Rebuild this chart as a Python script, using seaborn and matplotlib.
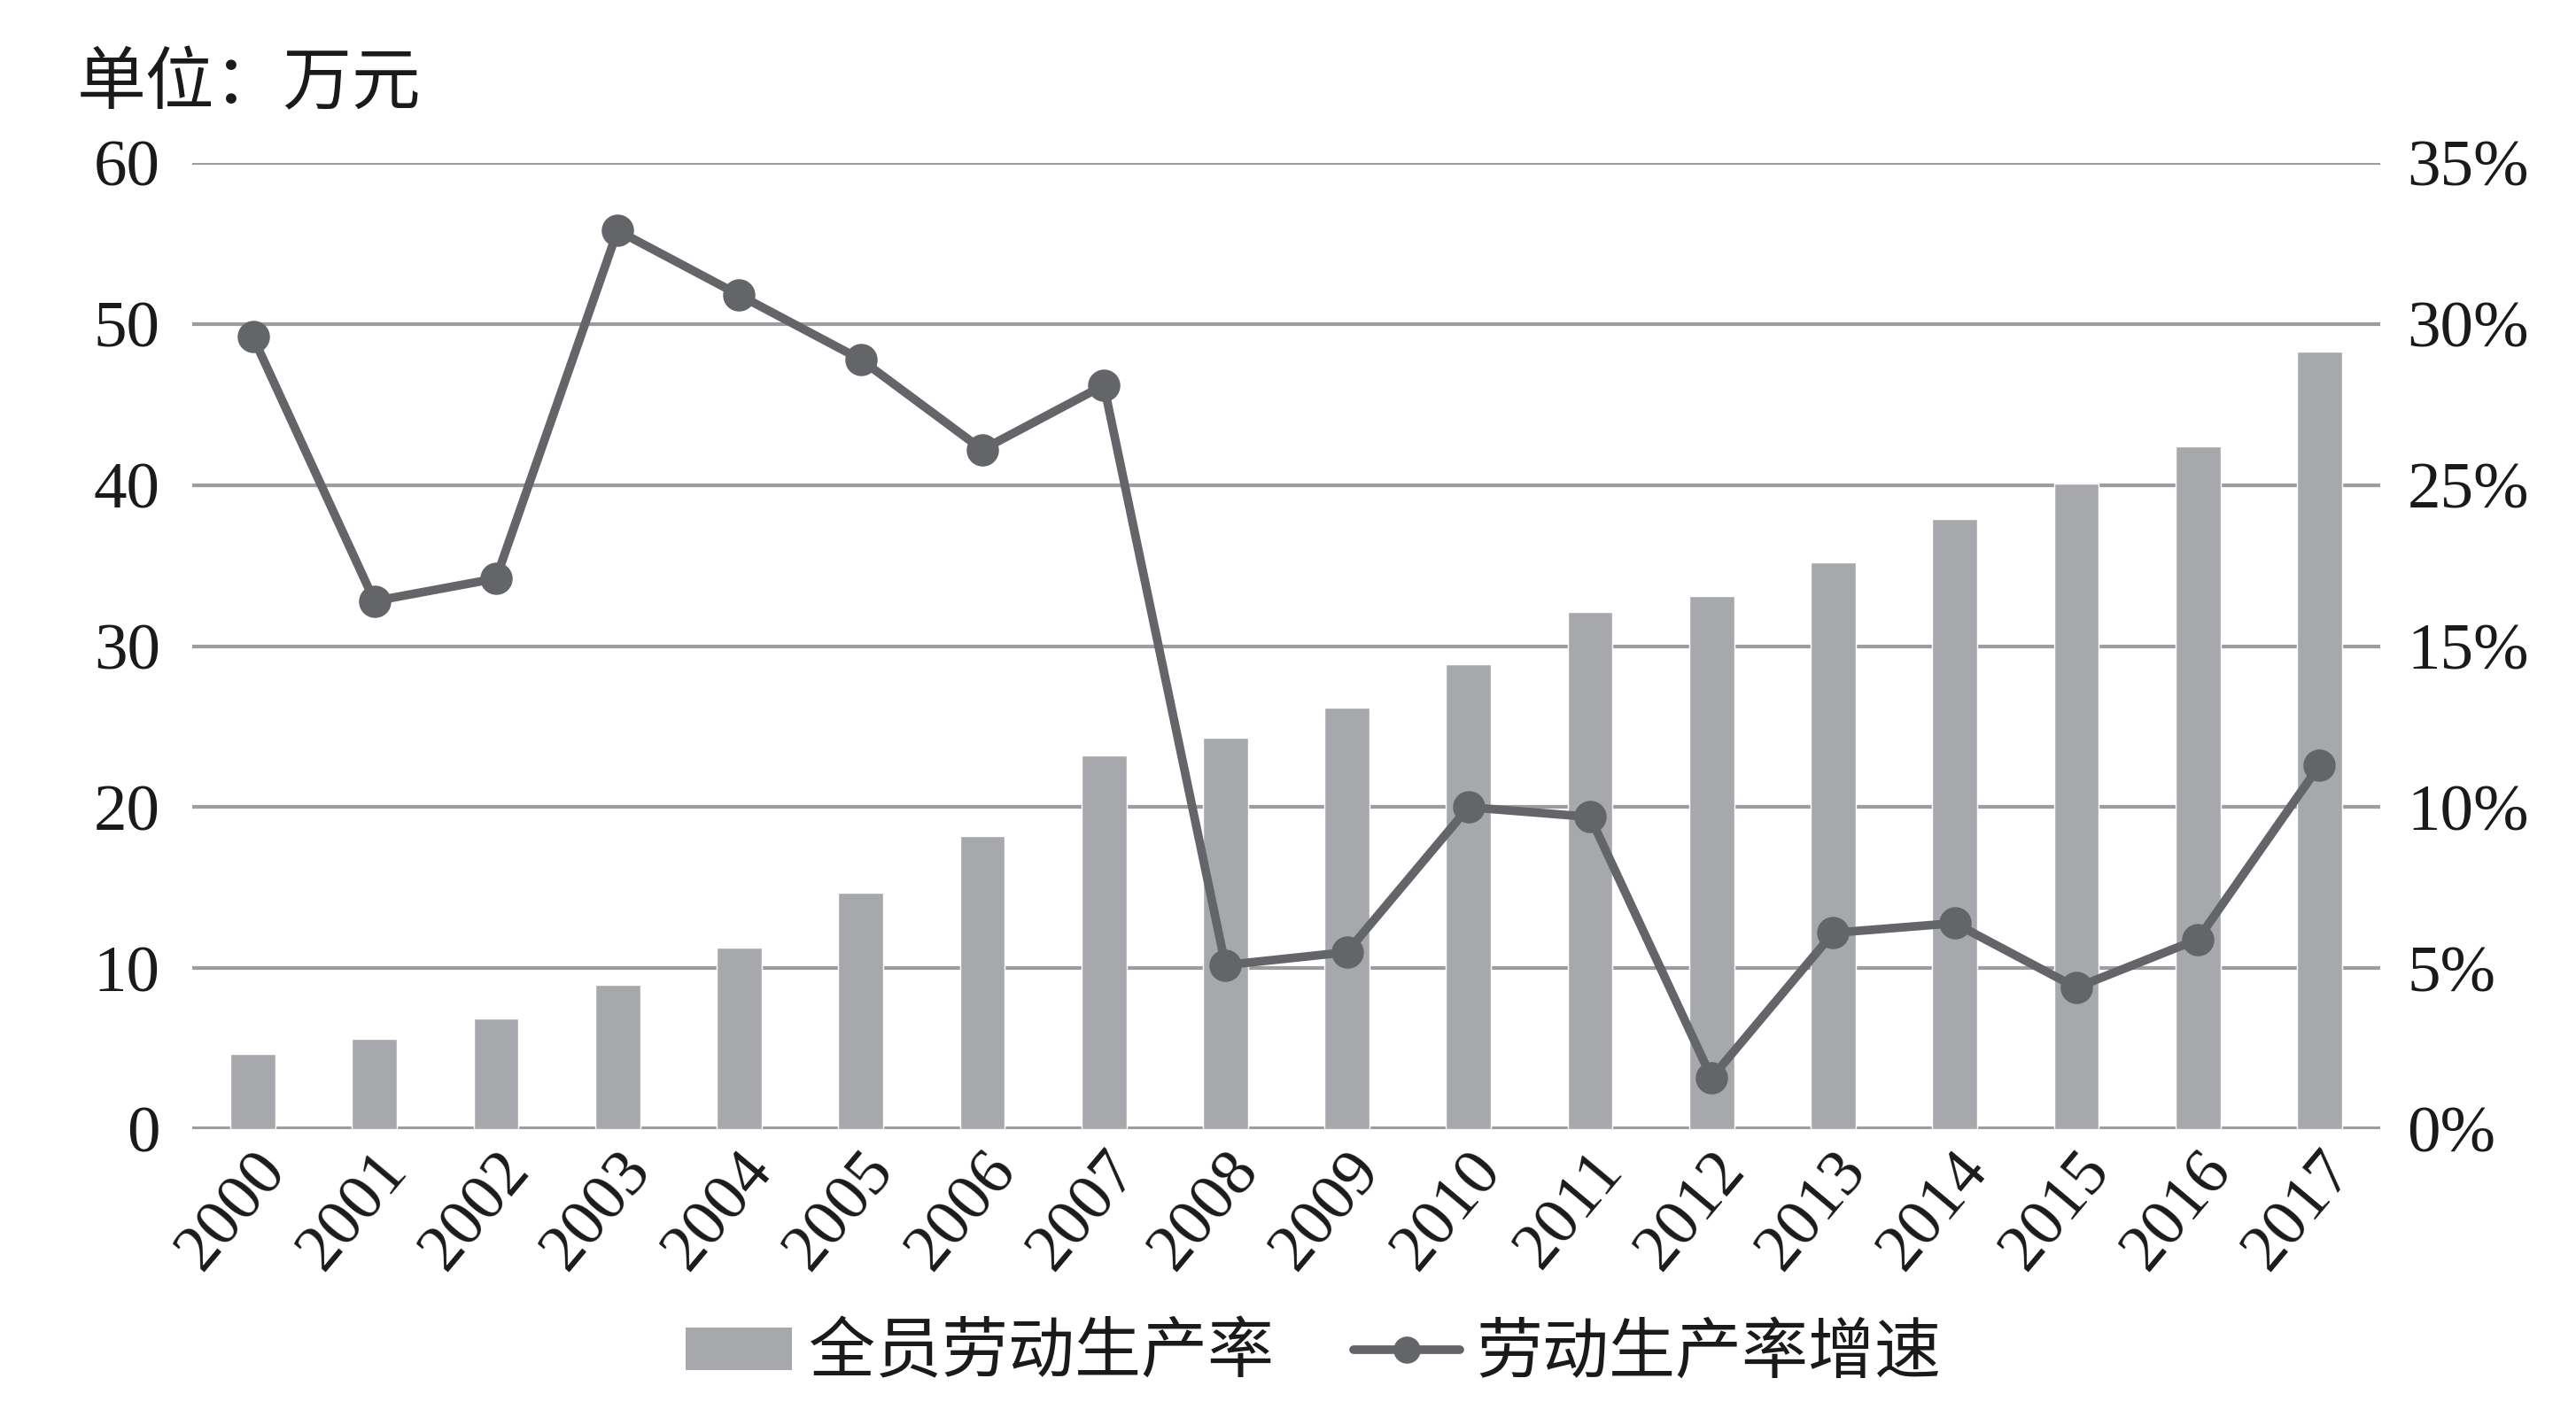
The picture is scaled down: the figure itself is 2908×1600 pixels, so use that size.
import matplotlib
matplotlib.use("Agg")
import matplotlib.pyplot as plt
import seaborn as sns
import pandas as pd
import numpy as np
from matplotlib.patches import Patch
from matplotlib.lines import Line2D

years = [str(y) for y in range(2000, 2018)]
productivity = [4.7, 5.6, 6.9, 9.0, 11.3, 14.7, 18.2, 23.2, 24.3, 26.2,
                28.9, 32.1, 33.1, 35.2, 37.9, 40.1, 42.4, 48.3]
growth = [24.6, 16.4, 17.1, 27.9, 25.9, 23.9, 21.1, 23.1, 5.1, 5.5,
          10.0, 9.7, 1.6, 6.1, 6.4, 4.4, 5.9, 11.3]
left_ticks = [0, 10, 20, 30, 40, 50, 60]
right_ticks = [0, 5, 10, 15, 20, 25, 30]
right_labels = ["0%", "5%", "10%", "15%", "25%", "30%", "35%"]
bar_name = "全员劳动生产率"
line_name = "劳动生产率增速"
unit_text = "单位：万元"

sns.set_theme(style="white")
plt.rcParams['font.family'] = ['Liberation Serif', 'Noto Sans CJK SC', 'DejaVu Sans']

bar_color = "#A7A8AB"
line_color = "#646569"
grid_color = "#9D9D9F"
text_color = "#1a1a1a"

df = pd.DataFrame({"year": years, "prod": productivity, "growth": growth})

fig = plt.figure(figsize=(29.08, 16), dpi=100)
ax = fig.add_axes([0.0746, 0.203, 0.8494, 0.682])

for t in left_ticks:
    ax.axhline(t, color=grid_color, lw=3 if t else 4.5, zorder=0)

sns.barplot(data=df, x="year", y="prod", color=bar_color, width=0.37,
            saturation=1, ax=ax, zorder=2)
ax.set_ylim(0, 60)
ax.set_yticks(left_ticks)
ax.set_xlim(-0.5, len(years) - 0.5)
ax.set_xlabel("")
ax.set_ylabel("")
for s in ax.spines.values():
    s.set_visible(False)
ax.tick_params(axis='both', length=0, labelsize=54, colors=text_color)
ax.tick_params(axis='y', pad=26)
ax.set_xticks(range(len(years)))
ax.set_xticklabels(years, rotation=50, ha='right', rotation_mode='anchor',
                   fontsize=54)
ax.tick_params(axis='x', pad=10)

ax2 = ax.twinx()
sns.pointplot(data=df, x="year", y="growth", color=line_color, markers='o',
              linestyles='-', markersize=21, linewidth=7, ax=ax2)
ax2.set_ylim(0, 30)
ax2.set_yticks(right_ticks)
ax2.set_yticklabels(right_labels)
ax2.set_xlim(-0.5, len(years) - 0.5)
ax2.set_ylabel("")
ax2.set_xlabel("")
for s in ax2.spines.values():
    s.set_visible(False)
ax2.tick_params(axis='y', length=0, labelsize=54, pad=22, colors=text_color)
ax2.grid(False)

fig.text(0.030, 0.94, unit_text, fontsize=56, va='center', ha='left',
         family=['Noto Sans CJK SC', 'DejaVu Sans'], color=text_color)

handles = [Patch(facecolor=bar_color, edgecolor='none', label=bar_name),
           Line2D([0], [0], color=line_color, lw=7, marker='o',
                  markersize=21, label=line_name)]
leg = fig.legend(handles=handles, loc='center', bbox_to_anchor=(0.51, 0.045),
                 ncol=2, frameon=False, handlelength=1.6, handleheight=0.6,
                 columnspacing=1.2, handletextpad=0.25,
                 prop={'family': ['Noto Sans CJK SC', 'DejaVu Sans'], 'size': 54})
for t in leg.get_texts():
    t.set_color(text_color)

fig.savefig("out.png", dpi=100)
